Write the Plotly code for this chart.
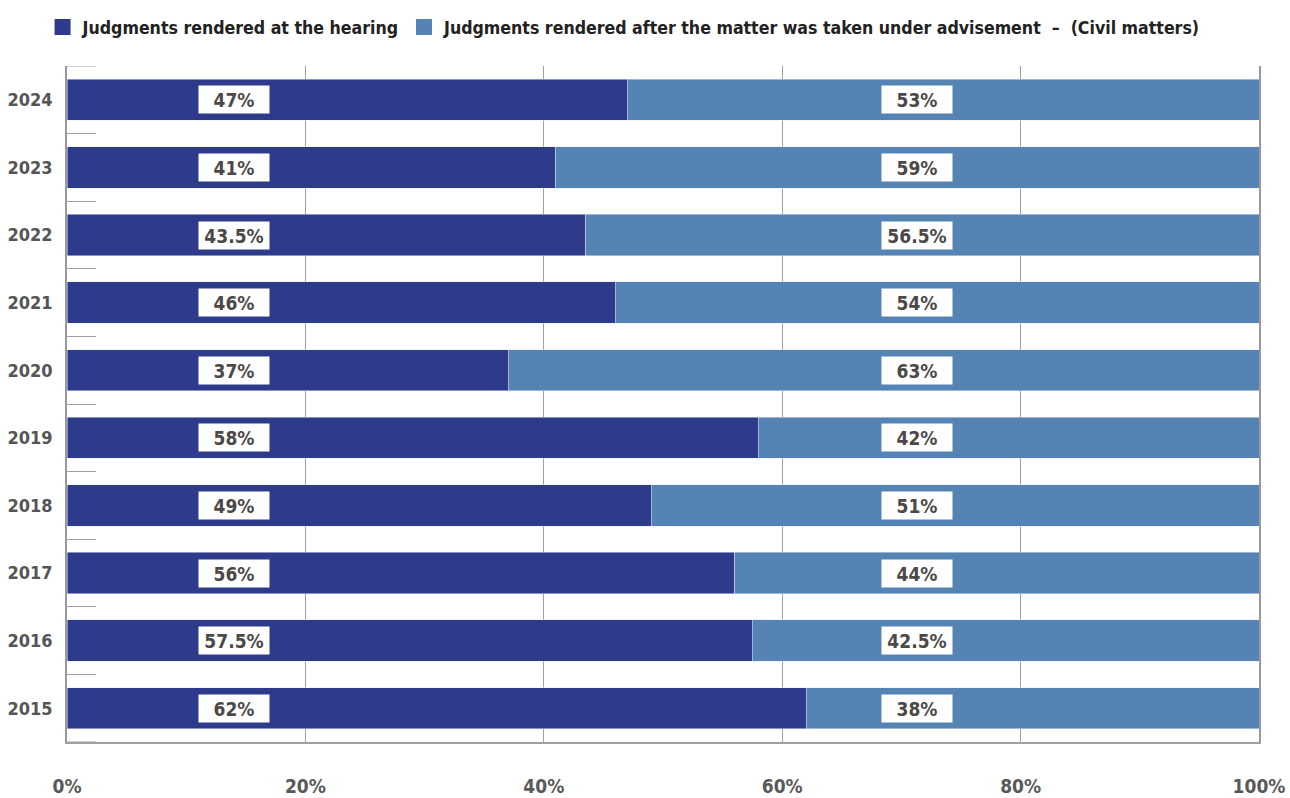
import plotly.graph_objects as go

years = ["2015", "2016", "2017", "2018", "2019", "2020", "2021", "2022", "2023", "2024"]
at_hearing = [62, 57.5, 56, 49, 58, 37, 46, 43.5, 41, 47]
advisement = [38, 42.5, 44, 51, 42, 63, 54, 56.5, 59, 53]
x_ticks = [0, 20, 40, 60, 80, 100]
x_tick_labels = ["0%", "20%", "40%", "60%", "80%", "100%"]
series_names = ["Judgments rendered at the hearing",
                "Judgments rendered after the matter was taken under advisement  –  (Civil matters)"]

FONT = "Liberation Sans Narrow, DejaVu Sans Condensed, Roboto Condensed, Arial Narrow, sans-serif"
DARK = "#2E3A8A"
LIGHT = "#5583B3"

def fmt(v):
    return f"{v:g}%"

fig = go.Figure()
for vals, color, name in ((at_hearing, DARK, series_names[0]), (advisement, LIGHT, series_names[1])):
    fig.add_trace(go.Bar(y=years, x=vals, orientation="h", marker_color=color,
                         name=name, showlegend=False, hoverinfo="x+y"))
    fig.add_trace(go.Scatter(x=[None], y=[None], mode="markers", name=f"<b>{name}</b>",
                             marker=dict(symbol="square", size=16, color=color), showlegend=True))

for i, (a, b) in enumerate(zip(at_hearing, advisement)):
    for xpos, v in ((14.05, a), (71.3, b)):
        fig.add_annotation(x=xpos, y=i, xref="x", yref="y", text=f"<b>{fmt(v)}</b>",
                           showarrow=False, bgcolor="white", width=68, height=25,
                           font=dict(family=FONT, size=19, color="#4D4848"))

# edge tick marks at the outer category boundaries (inner ones come from the axis)
for edge in (-0.5, len(years) - 0.5):
    fig.add_shape(type="line", xref="x domain", yref="y", x0=0, x1=29 / 1192, y0=edge, y1=edge,
                  line=dict(color="#A0A0A0", width=1))

fig.update_layout(
    barmode="stack",
    bargap=0.39,
    width=1290, height=798,
    margin=dict(l=67, r=31, t=66, b=56, autoexpand=False),
    plot_bgcolor="white", paper_bgcolor="white",
    font=dict(family=FONT, color="#555"),
    showlegend=True,
    legend=dict(orientation="h", xref="container", yref="container", x=0.033, y=1 - 27 / 798,
                xanchor="left", yanchor="middle", traceorder="normal",
                font=dict(family=FONT, size=17.6, color="#222"),
                itemwidth=30, tracegroupgap=0, bgcolor="rgba(0,0,0,0)"),
    xaxis=dict(range=[0, 100], tickvals=x_ticks, ticktext=[f"<b>{t}</b>" for t in x_tick_labels],
               showgrid=True, gridcolor="#A0A0A0", gridwidth=1, zeroline=False,
               showline=True, linecolor="#A0A0A0", linewidth=1.5, ticks="",
               tickfont=dict(family=FONT, size=19, color="#595959"), ticklabelstandoff=26,
               fixedrange=True, automargin=False),
    yaxis=dict(type="category", categoryorder="array", categoryarray=years, range=[-0.5, len(years) - 0.5],
               showline=True, linecolor="#999", linewidth=1.5, mirror=True, ticks="inside",
               tickson="boundaries", ticklen=29, tickcolor="#A0A0A0", tickwidth=1, showgrid=False,
               tickvals=years, ticktext=[f"<b>{y}</b>" for y in years], automargin=False,
               tickfont=dict(family=FONT, size=18, color="#555"), ticklabelstandoff=9),
)

fig.write_html("out.html", post_script="document.body.style.margin='0';",
               config={"displayModeBar": False})
